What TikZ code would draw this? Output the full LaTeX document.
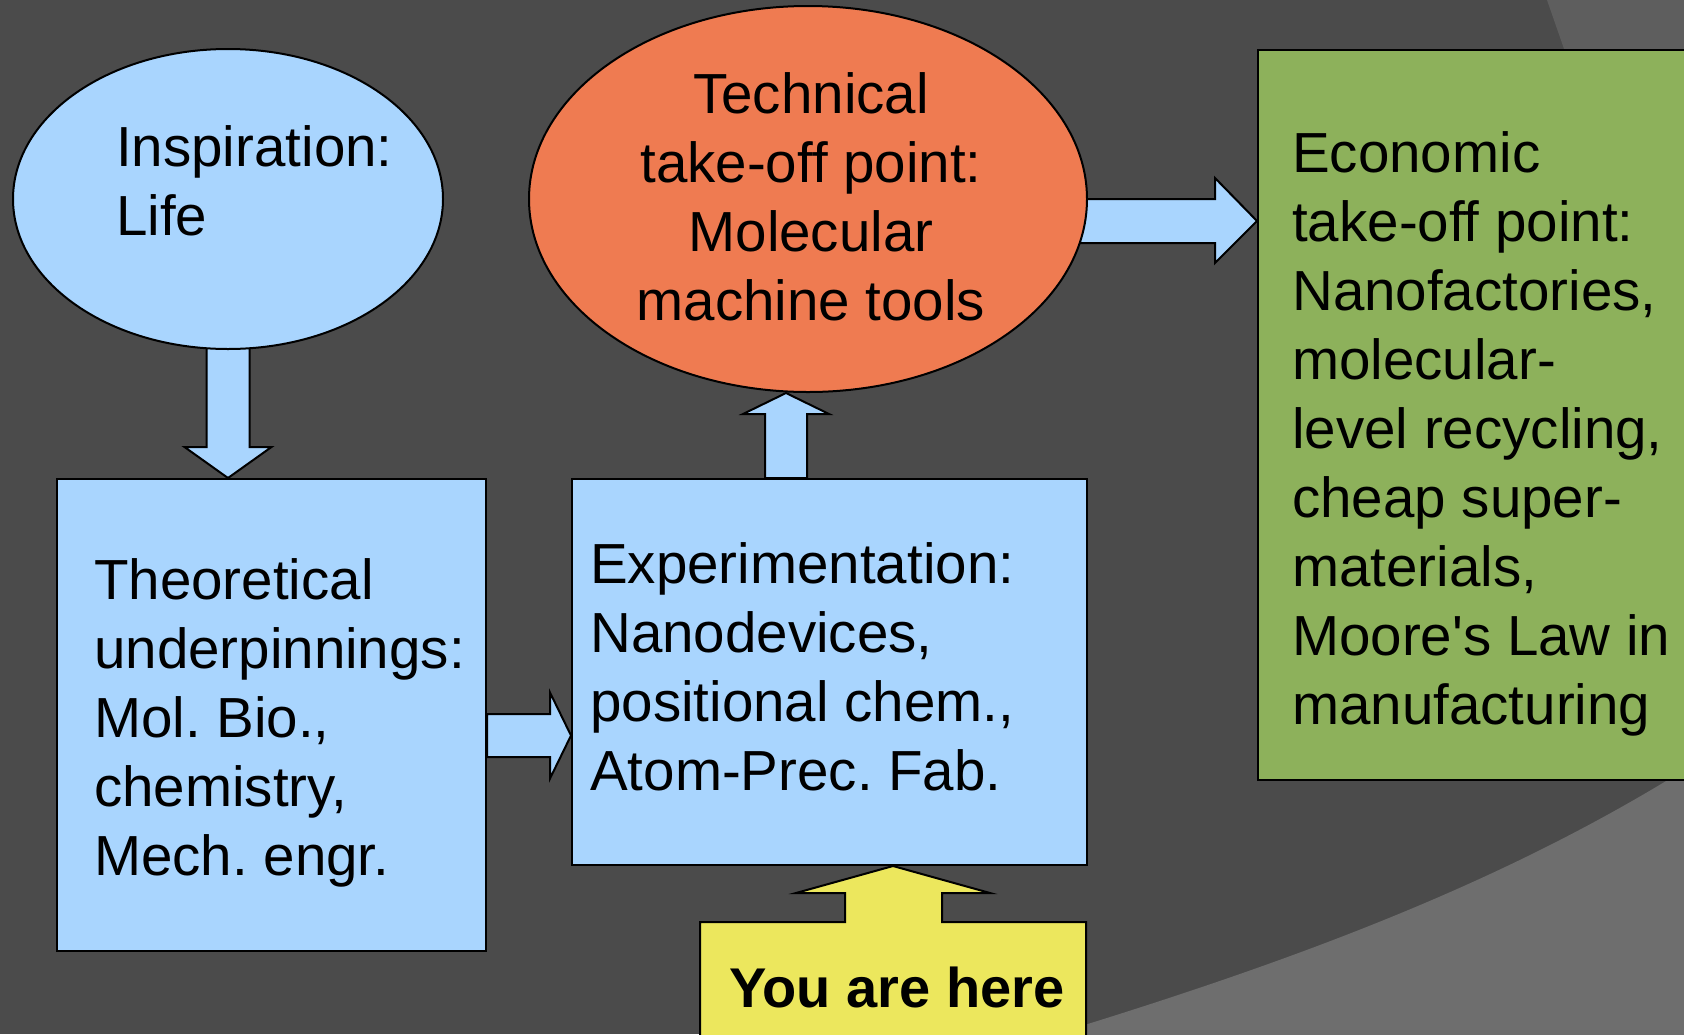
\documentclass[tikz,border=0pt]{standalone}
\usepackage{fontspec}
\setmainfont{Liberation Sans}[Ligatures=TeXOff]
\usetikzlibrary{shapes.geometric,calc}
\definecolor{bgdark}{HTML}{4B4B4B}
\definecolor{bgmid}{HTML}{5E5E5E}
\definecolor{bglight}{HTML}{6E6E6E}
\definecolor{skyblue}{HTML}{A9D5FE}
\definecolor{coral}{HTML}{EF7B51}
\definecolor{leaf}{HTML}{8DB15B}
\definecolor{lemon}{HTML}{ECE75D}
\pgfdeclarelayer{back}
\pgfsetlayers{back,main}
\frenchspacing
\tikzset{
  outline/.style={draw=black, line width=2pt},
  bubble/.style={outline, ellipse, inner sep=0pt},
  panel/.style={outline, rectangle, inner sep=0pt, anchor=north west},
  blockarrow/.style={outline, fill=skyblue, line join=miter},
  label/.style={inner sep=0pt, font=\fontsize{56.5}{69}\selectfont},
}
\begin{document}
\begin{tikzpicture}[x=1pt, y=-1pt]
\useasboundingbox (0,0) rectangle (1684,1034);
\clip (0,0) rectangle (1684,1034);

% shapes
\node[bubble, fill=skyblue, minimum width=430pt, minimum height=300pt] (insp) at (228,199) {};
\node[bubble, fill=coral, minimum width=558pt, minimum height=386pt] (tech) at (808,199) {};
\node[panel, fill=skyblue, minimum width=429pt, minimum height=472pt] (theo) at (56,478) {};
\node[panel, fill=skyblue, minimum width=515pt, minimum height=386pt] (exper) at (571,478) {};
\node[panel, fill=leaf, minimum width=450pt, minimum height=730pt] (econ) at (1257,49) {};

% callout pointing at the experimentation stage
\draw[outline, fill=lemon, line join=miter]
  (700,1050) -- (700,922) -- (845,922) -- (845,893) -- (796,893)
  -- (exper.south -| 893,0) -- (990,893) -- (942,893) -- (942,922)
  -- (1086,922) -- (1086,1050) -- cycle;
\node[label, font=\fontsize{56}{66}\selectfont\bfseries, anchor=base] (here) at (897,1007) {You are here};

% texts (anchored at the baseline of their last line)
\node[label, anchor=base west, align=left] (tinsp) at (116,235) {Inspiration:\\Life};
\node[label, anchor=base, align=center] (ttech) at (811,320) {Technical\\take-off point:\\Molecular\\machine tools};
\node[label, anchor=base west, align=left] (ttheo) at (94,875) {Theoretical\\underpinnings:\\Mol. Bio.,\\chemistry,\\Mech. engr.};
\node[label, anchor=base west, align=left] (texper) at (590,790) {Experimentation:\\Nanodevices,\\positional chem.,\\Atom-Prec. Fab.};
\node[label, anchor=base west, align=left] (tecon) at (1292,724) {Economic\\take-off point:\\Nanofactories,\\molecular-\\level recycling,\\cheap super-\\materials,\\Moore's Law in\\manufacturing};

% end points of the block arrows
\coordinate (a1s) at ($(insp.south)+(0,-12)$);
\coordinate (a1e) at (insp.south |- theo.north);
\coordinate (a2s) at (theo.east |- 0,735.5);
\coordinate (a2e) at (exper.west |- 0,735.5);
\coordinate (a3s) at (exper.north -| 786,0);
\coordinate (a3e) at (tech.south -| 786,0);
\coordinate (a4s) at ($(tech.east |- 0,221)+(-8,0)$);
\coordinate (a4e) at (econ.west |- 0,221);

\begin{pgfonlayer}{back}
  \fill[bgdark] (0,0) rectangle (1684,1034);
  \fill[bgmid] (1547,0) -- (1700,0) -- (1700,440) -- cycle;
  \fill[bglight] (900,1080) .. controls (1230,985) and (1480,900) .. (1700,760)
    -- (1700,1080) -- cycle;
  % Inspiration -> Theoretical
  \draw[blockarrow] ($(a1s)+(-21.5,0)$) -- ($(a1e)+(-21.5,-31)$) -- ($(a1e)+(-43.5,-31)$)
    -- (a1e) -- ($(a1e)+(43.5,-31)$) -- ($(a1e)+(21.5,-31)$) -- ($(a1s)+(21.5,0)$) -- cycle;
  % Theoretical -> Experimentation
  \draw[blockarrow] ($(a2s)+(0,-21.5)$) -- ($(a2e)+(-21,-21.5)$) -- ($(a2e)+(-21,-43)$)
    -- (a2e) -- ($(a2e)+(-21,43)$) -- ($(a2e)+(-21,21.5)$) -- ($(a2s)+(0,21.5)$) -- cycle;
  % Experimentation -> Technical
  \draw[blockarrow] ($(a3s)+(-21,0)$) -- ($(a3e)+(-21,21)$) -- ($(a3e)+(-43,21)$)
    -- (a3e) -- ($(a3e)+(43,21)$) -- ($(a3e)+(21,21)$) -- ($(a3s)+(21,0)$) -- cycle;
  % Technical -> Economic
  \draw[blockarrow] ($(a4s)+(0,-22)$) -- ($(a4e)+(-42,-22)$) -- ($(a4e)+(-42,-43)$)
    -- (a4e) -- ($(a4e)+(-42,42)$) -- ($(a4e)+(-42,22)$) -- ($(a4s)+(0,22)$) -- cycle;
\end{pgfonlayer}
\end{tikzpicture}
\end{document}
